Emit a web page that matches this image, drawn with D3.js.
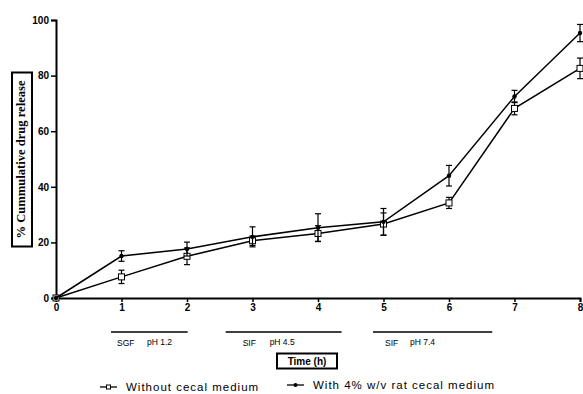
<!DOCTYPE html>
<html>
<head>
<meta charset="utf-8">
<script src="https://cdn.jsdelivr.net/npm/d3@7"></script>
<style>
  body { margin: 0; background: #fff; }
</style>
</head>
<body>
<div id="chart"></div>
<script>
// data
const times = [0, 1, 2, 3, 4, 5, 6, 7, 8];
const withoutMean = [0, 7.6, 15.0, 20.6, 23.2, 26.6, 34.2, 68.2, 82.6];
const withoutErr  = [0, 2.4, 3.0, 1.7, 2.8, 4.0, 2.0, 2.3, 3.7];
const withMean = [0, 15.1, 17.6, 22.0, 25.3, 27.4, 44.0, 72.5, 95.3];
const withErr  = [0, 1.9, 2.5, 3.6, 5.0, 4.8, 3.7, 2.2, 3.1];
const yTicks = [0, 20, 40, 60, 80, 100];
const phases = [
  {name: 'SGF', ph: 'pH 1.2', start: 0.84, end: 2.01},
  {name: 'SIF', ph: 'pH 4.5', start: 2.59, end: 4.36},
  {name: 'SIF', ph: 'pH 7.4', start: 4.84, end: 6.66}
];
const seriesNames = ['Without cecal medium', 'With 4% w/v rat cecal medium'];

// label offsets (px) from the start of each phase bar
const phaseLabelDx = [[6, 36], [17, 44], [12, 37]];

const sans = 'Arial, "Liberation Sans", sans-serif';
const width = 583, height = 394;
const margin = {top: 20, left: 56, right: 3, bottom: 96};
const cw = width - margin.left - margin.right, ch = height - margin.top - margin.bottom;

const svg = d3.select('#chart').append('svg')
  .attr('width', width).attr('height', height)
  .style('font-family', sans);

const x = d3.scaleLinear().domain([0, 8]).range([margin.left, margin.left + cw]);
const y = d3.scaleLinear().domain([0, 100]).range([margin.top + ch, margin.top]);

// axes
const xAxis = svg.append('g').attr('transform', `translate(0, ${y(0)})`)
  .call(d3.axisBottom(x).tickValues(times).tickSize(4).tickPadding(2).tickFormat(d3.format('d')));
const yAxis = svg.append('g').attr('transform', `translate(${x(0)}, 0)`)
  .call(d3.axisLeft(y).tickValues(yTicks).tickSize(5).tickPadding(2));
[xAxis, yAxis].forEach(a => {
  a.select('.domain').attr('stroke', '#000').attr('stroke-width', 2);
  a.selectAll('.tick line').attr('stroke', '#000').attr('stroke-width', 1.5);
  a.selectAll('.tick text').attr('font-size', 10).attr('font-weight', 'bold')
    .attr('font-family', sans).attr('fill', '#000');
});

const series = [
  {name: seriesNames[0], mean: withoutMean, err: withoutErr, marker: 'square'},
  {name: seriesNames[1], mean: withMean, err: withErr, marker: 'dot'}
];

const line = d3.line().x((d, i) => x(times[i])).y(d => y(d));

series.forEach(s => {
  const g = svg.append('g');
  g.append('path').attr('d', line(s.mean))
    .attr('fill', 'none').attr('stroke', '#000').attr('stroke-width', 1.5);

  const eb = g.selectAll('g.err').data(s.mean.map((m, i) => ({t: times[i], m, e: s.err[i]})).filter(d => d.e > 0))
    .join('g').attr('class', 'err');
  eb.append('line').attr('x1', d => x(d.t)).attr('x2', d => x(d.t))
    .attr('y1', d => y(d.m - d.e)).attr('y2', d => y(d.m + d.e))
    .attr('stroke', '#000').attr('stroke-width', 1.2);
  eb.selectAll('line.cap').data(d => [d.m - d.e, d.m + d.e].map(v => ({t: d.t, v})))
    .join('line').attr('class', 'cap')
    .attr('x1', d => x(d.t) - 3).attr('x2', d => x(d.t) + 3)
    .attr('y1', d => y(d.v)).attr('y2', d => y(d.v))
    .attr('stroke', '#000').attr('stroke-width', 1.2);

  const pts = s.mean.map((m, i) => ({t: times[i], m}));
  if (s.marker === 'square') {
    g.selectAll('rect').data(pts).join('rect')
      .attr('x', d => x(d.t) - 3).attr('y', d => y(d.m) - 3)
      .attr('width', 6).attr('height', 6)
      .attr('fill', '#fff').attr('stroke', '#000').attr('stroke-width', 1);
  } else {
    g.selectAll('circle').data(pts).join('circle')
      .attr('cx', d => x(d.t)).attr('cy', d => y(d.m)).attr('r', 2.2)
      .attr('fill', '#000');
  }
});

// phase bars under the x axis
const ph = svg.append('g').selectAll('g').data(phases).join('g');
ph.append('line')
  .attr('x1', d => x(d.start)).attr('x2', d => x(d.end))
  .attr('y1', 332).attr('y2', 332)
  .attr('stroke', '#000').attr('stroke-width', 1.3);
ph.append('text').attr('x', (d, i) => x(d.start) + phaseLabelDx[i][0]).attr('y', 346)
  .attr('font-size', 8.5).text(d => d.name);
ph.append('text').attr('x', (d, i) => x(d.start) + phaseLabelDx[i][1]).attr('y', 345)
  .attr('font-size', 8.5).text(d => d.ph);

// x title
const xt = svg.append('g').attr('transform', 'translate(307, 361)');
xt.append('rect').attr('x', -30).attr('y', -7.5).attr('width', 60).attr('height', 15)
  .attr('fill', 'none').attr('stroke', '#000').attr('stroke-width', 2);
xt.append('text').attr('text-anchor', 'middle').attr('dy', '.35em')
  .attr('font-size', 10).attr('font-weight', 'bold').text('Time (h)');

// y title
const yt = svg.append('g').attr('transform', 'translate(22, 159.5) rotate(-90)');
yt.append('rect').attr('x', -87).attr('y', -10).attr('width', 174).attr('height', 20)
  .attr('fill', 'none').attr('stroke', '#000').attr('stroke-width', 2);
yt.append('text').attr('text-anchor', 'middle').attr('dy', '.35em').attr('y', -1.5)
  .style('font-family', '"Liberation Serif", "Times New Roman", serif')
  .attr('font-size', 13).attr('font-weight', 'bold')
  .attr('textLength', 158).attr('lengthAdjust', 'spacingAndGlyphs')
  .text('% Cummulative drug release');

// legend
const leg = svg.append('g').selectAll('g').data(series).join('g')
  .attr('transform', (d, i) => i === 0 ? 'translate(100, 387)' : 'translate(287, 385)');
leg.append('line').attr('x1', 0).attr('x2', 17).attr('stroke', '#000').attr('stroke-width', 1.3);
leg.filter(d => d.marker === 'square').append('rect')
  .attr('x', 6.5).attr('y', -2).attr('width', 4).attr('height', 4)
  .attr('fill', '#fff').attr('stroke', '#000');
leg.filter(d => d.marker === 'dot').append('circle')
  .attr('cx', 8.5).attr('r', 2).attr('fill', '#000');
leg.append('text').attr('x', 26).attr('dy', '.35em')
  .attr('font-size', 11.5).attr('letter-spacing', 1).text(d => d.name);
</script>
</body>
</html>
